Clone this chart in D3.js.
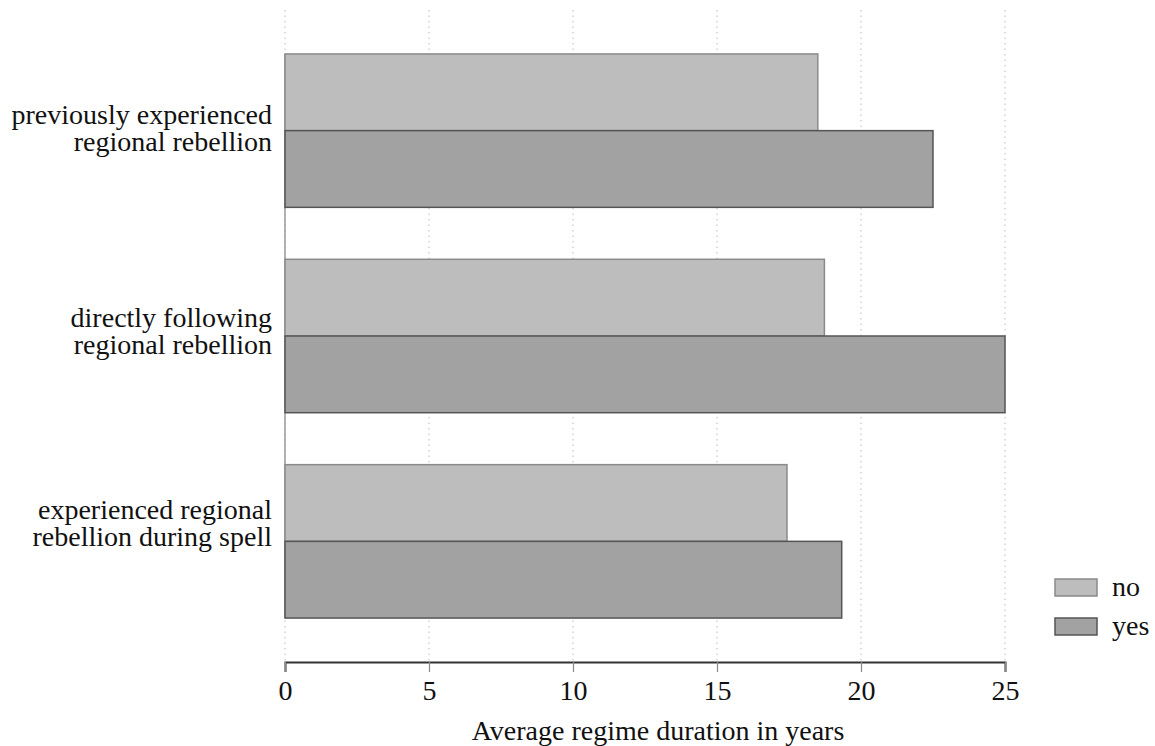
<!DOCTYPE html>
<html>
<head>
<meta charset="utf-8">
<script src="https://cdn.jsdelivr.net/npm/d3@7"></script>
<style>
  html, body { margin: 0; padding: 0; background: #fff; }
  svg { display: block; }
  text { font-family: "Liberation Serif", "Times New Roman", serif; fill: #111; }
</style>
</head>
<body>
<svg id="chart" width="1155" height="746"></svg>
<script>
// ---- data ----
const categories = [
  ["previously experienced", "regional rebellion"],
  ["directly following", "regional rebellion"],
  ["experienced regional", "rebellion during spell"]
];
const seriesNames = ["no", "yes"];
const noValues  = [18.5, 18.73, 17.43];
const yesValues = [22.5, 25.0, 19.33];
const xTicks = [0, 5, 10, 15, 20, 25];
const xTitle = "Average regime duration in years";

// ---- layout ----
const mLeft = 285, mRight = 1005, mTop = 10, mBottom = 662;
const fontSize = 28;
const labelShift = [0, -2, -15];
const colors = { no: { fill: "#bdbdbd", stroke: "#8a8a8a" }, yes: { fill: "#a2a2a2", stroke: "#555555" } };

const svg = d3.select("#chart");

const keys = categories.map((c, i) => "g" + i);
const x = d3.scaleLinear().domain([0, 25]).range([mLeft, mRight]);
const y = d3.scaleBand().domain(keys).range([mTop, mBottom]).paddingInner(0.253).paddingOuter(0.214);
const ySub = d3.scaleBand().domain(seriesNames).range([0, y.bandwidth()]).padding(0);

// gridlines (dotted)
svg.append("g").selectAll("line").data(xTicks).join("line")
  .attr("x1", d => x(d)).attr("x2", d => x(d))
  .attr("y1", mTop).attr("y2", mBottom)
  .attr("stroke", "#c8c8c8").attr("stroke-width", 1.2)
  .attr("stroke-dasharray", "1.5,4");

// left solid axis line spanning the bars
svg.append("line")
  .attr("x1", x(0)).attr("x2", x(0))
  .attr("y1", y(keys[0])).attr("y2", y(keys[keys.length - 1]) + y.bandwidth())
  .attr("stroke", "#9a9a9a").attr("stroke-width", 1.5);

// bars
const rows = categories.map((c, i) => ({ key: keys[i], idx: i, label: c, no: noValues[i], yes: yesValues[i] }));
const groups = svg.append("g").selectAll("g").data(rows).join("g")
  .attr("transform", d => `translate(0,${y(d.key)})`);
groups.selectAll("rect").data(d => seriesNames.map(s => ({ s, v: d[s] }))).join("rect")
  .attr("x", x(0))
  .attr("y", d => ySub(d.s))
  .attr("width", d => x(d.v) - x(0))
  .attr("height", ySub.bandwidth())
  .attr("fill", d => colors[d.s].fill)
  .attr("stroke", d => colors[d.s].stroke)
  .attr("stroke-width", 1.5);

// category labels
const lab = svg.append("g").selectAll("text").data(rows).join("text")
  .attr("text-anchor", "end")
  .attr("font-size", fontSize)
  .attr("transform", d => `translate(272,${y(d.key) + y.bandwidth() / 2 + labelShift[d.idx]})`);
lab.selectAll("tspan").data(d => d.label).join("tspan")
  .attr("x", 0)
  .attr("y", (d, i) => (i === 0 ? -7 : 20))
  .text(d => d);

// x axis
const xAxis = d3.axisBottom(x).tickValues(xTicks).tickSize(10).tickPadding(8).tickFormat(d3.format("d"));
const gx = svg.append("g").attr("transform", `translate(0,${mBottom})`).call(xAxis);
gx.select(".domain").attr("stroke", "#333").attr("stroke-width", 2);
gx.selectAll(".tick line").attr("stroke", "#8a8a8a").attr("stroke-width", 1.2);
gx.selectAll(".tick text").attr("font-size", fontSize).attr("font-family", "Liberation Serif, serif").attr("fill", "#111");

// x title
svg.append("text")
  .attr("x", 658).attr("y", 740)
  .attr("text-anchor", "middle")
  .attr("font-size", fontSize)
  .text(xTitle);

// legend
const legend = svg.append("g").selectAll("g").data(seriesNames).join("g")
  .attr("transform", (d, i) => `translate(1055,${579 + i * 39})`);
legend.append("rect")
  .attr("width", 42).attr("height", 17)
  .attr("fill", d => colors[d].fill)
  .attr("stroke", d => colors[d].stroke)
  .attr("stroke-width", 1.5);
legend.append("text")
  .attr("x", 57).attr("y", 17)
  .attr("font-size", fontSize)
  .text(d => d);
</script>
</body>
</html>
